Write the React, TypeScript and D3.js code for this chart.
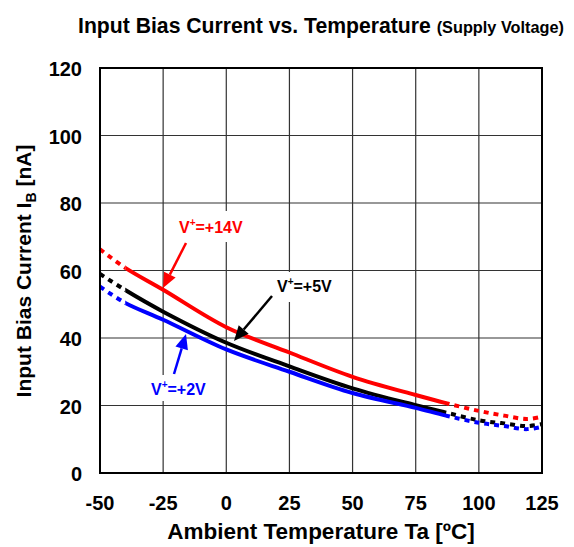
import React from "react";
import * as d3 from "d3";

const temps = [-50, -40, -25, 0, 25, 50, 75, 87, 100, 110, 119, 125];
const v14 = [66.3, 60.8, 54.3, 43.2, 35.7, 28.5, 23.1, 20.7, 18.4, 17.0, 16.0, 16.7];
const v5 = [59.0, 54.2, 47.8, 38.6, 31.6, 25.1, 20.1, 17.9, 15.6, 14.7, 13.9, 14.5];
const v2 = [55.2, 50.4, 45.4, 36.6, 30.0, 23.7, 19.3, 17.0, 14.9, 13.9, 13.0, 13.7];
const xTicks = [-50, -25, 0, 25, 50, 75, 100, 125];
const yTicks = [0, 20, 40, 60, 80, 100, 120];
const solidRange = [-40, 87];

const W = 574;
const H = 547;
const M = { left: 100, right: 542, top: 68, bottom: 473 };
const FONT = "'Liberation Sans', Arial, Helvetica, sans-serif";

export default function App() {
  const x = d3.scaleLinear().domain([-50, 125]).range([M.left, M.right]);
  const y = d3.scaleLinear().domain([0, 120]).range([M.bottom, M.top]);
  const line = d3
    .line<[number, number]>()
    .x((d) => x(d[0]))
    .y((d) => y(d[1]))
    .curve(d3.curveCatmullRom.alpha(0.5));

  const series = [
    { name: "14", vals: v14, color: "#ff0000" },
    { name: "5", vals: v5, color: "#000000" },
    { name: "2", vals: v2, color: "#0000ff" },
  ];

  const xs0 = x(solidRange[0]);
  const xs1 = x(solidRange[1]);

  const arrow = (x1: number, y1: number, x2: number, y2: number, color: string) => {
    const ang = Math.atan2(y2 - y1, x2 - x1);
    const len = 15;
    const hw = 6.5;
    const bx = x2 - len * Math.cos(ang);
    const by = y2 - len * Math.sin(ang);
    const px = -Math.sin(ang) * hw;
    const py = Math.cos(ang) * hw;
    return (
      <g>
        <line x1={x1} y1={y1} x2={bx} y2={by} stroke={color} strokeWidth={2.5} />
        <polygon
          points={`${x2},${y2} ${bx + px},${by + py} ${bx - px},${by - py}`}
          fill={color}
        />
      </g>
    );
  };

  const label = (tx: number, ty: number, volts: string, color: string) => (
    <text x={tx} y={ty} fill={color} fontFamily={FONT} fontWeight="bold" fontSize={16}>
      <tspan>V</tspan>
      <tspan dy={-7} fontSize={10}>+</tspan>
      <tspan dy={7}>{`=+${volts}V`}</tspan>
    </text>
  );

  return (
    <svg
      width={W}
      height={H}
      style={{ position: "absolute", left: 0, top: 0, background: "#fff" }}
    >
      <defs>
        <clipPath id="solid">
          <rect x={xs0} y={0} width={xs1 - xs0} height={H} />
        </clipPath>
        <clipPath id="dashL">
          <rect x={0} y={0} width={xs0} height={H} />
        </clipPath>
        <clipPath id="dashR">
          <rect x={xs1} y={0} width={W - xs1} height={H} />
        </clipPath>
      </defs>

      <text x={78} y={33} fontFamily={FONT} fontWeight="bold" fontSize={21.2} fill="#000">
        {"Input Bias Current vs. Temperature "}
        <tspan fontSize={16.3}>(Supply Voltage)</tspan>
      </text>

      {xTicks.map((t) => (
        <line key={"gx" + t} x1={x(t)} x2={x(t)} y1={M.top} y2={M.bottom} stroke="#333" strokeWidth={1.2} />
      ))}
      {yTicks.map((t) => (
        <line key={"gy" + t} x1={M.left} x2={M.right} y1={y(t)} y2={y(t)} stroke="#333" strokeWidth={1.2} />
      ))}

      {/* label backgrounds */}
      <rect x={176} y={211} width={70} height={31} fill="#fff" />
      <rect x={275} y={272} width={60} height={30} fill="#fff" />
      <rect x={149} y={375} width={64} height={26} fill="#fff" />

      {series.map((s) => {
        const pts = temps.map((t, i) => [t, s.vals[i]] as [number, number]);
        const d = line(pts) || "";
        return (
          <g key={s.name} fill="none" stroke={s.color} strokeWidth={4}>
            <path d={d} clipPath="url(#solid)" />
            <path d={d} clipPath="url(#dashL)" strokeDasharray="5,5" />
            <path d={d} clipPath="url(#dashR)" strokeDasharray="5,5" />
          </g>
        );
      })}

      <rect
        x={M.left}
        y={M.top}
        width={M.right - M.left}
        height={M.bottom - M.top}
        fill="none"
        stroke="#000"
        strokeWidth={2}
      />

      {label(179, 233, "14", "#ff0000")}
      {arrow(186, 243, 163, 288, "#ff0000")}
      {label(277, 292, "5", "#000000")}
      {arrow(272, 296, 234, 341, "#000000")}
      {label(151, 395, "2", "#0000ff")}
      {arrow(174, 374, 186, 334, "#0000ff")}

      {yTicks.map((t) => (
        <text
          key={"ty" + t}
          x={82}
          y={y(t) + 1}
          textAnchor="end"
          dominantBaseline="central"
          fontFamily={FONT}
          fontWeight="bold"
          fontSize={20}
        >
          {t}
        </text>
      ))}
      {xTicks.map((t) => (
        <text
          key={"tx" + t}
          x={x(t)}
          y={510}
          textAnchor="middle"
          fontFamily={FONT}
          fontWeight="bold"
          fontSize={20}
        >
          {t}
        </text>
      ))}

      <text
        x={(M.left + M.right) / 2}
        y={539}
        textAnchor="middle"
        fontFamily={FONT}
        fontWeight="bold"
        fontSize={22.5}
      >
        Ambient Temperature Ta [ºC]
      </text>

      <text
        transform={`translate(31, 271) rotate(-90)`}
        textAnchor="middle"
        fontFamily={FONT}
        fontWeight="bold"
        fontSize={21}
      >
        {"Input Bias Current I"}
        <tspan dy={5} fontSize={14}>B</tspan>
        <tspan dy={-5}>{" [nA]"}</tspan>
      </text>
    </svg>
  );
}
